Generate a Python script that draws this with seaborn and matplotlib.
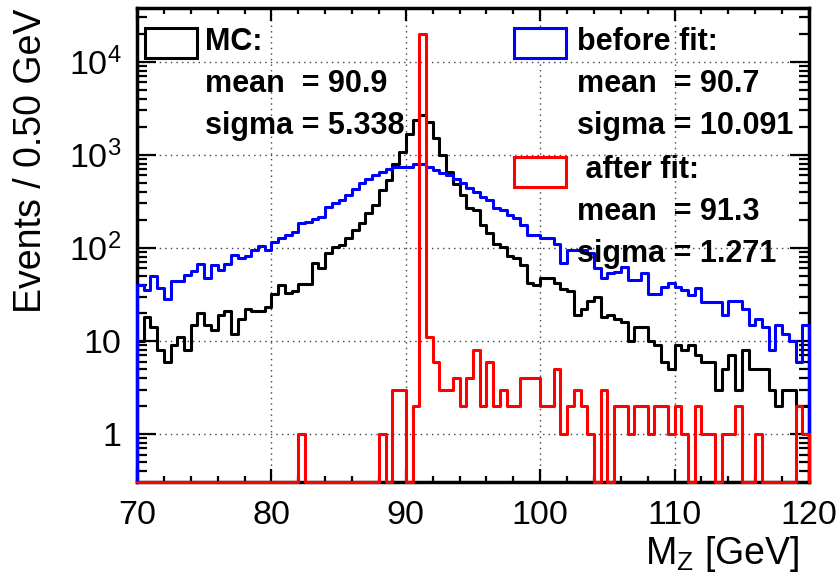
import matplotlib
matplotlib.use("Agg")
import matplotlib.pyplot as plt
import numpy as np
import pandas as pd
import seaborn as sns
from matplotlib.patches import Rectangle
from matplotlib.ticker import FixedLocator, FixedFormatter, LogLocator, MultipleLocator, NullFormatter

# binning: 100 bins of 0.50 GeV between 70 and 120 GeV
x_lo, x_hi, bin_w = 70.0, 120.0, 0.5

# MC (black)
mc_counts = [10, 18, 14, 8, 6, 9, 11, 8, 15, 20,
             15, 13, 19, 21, 12, 17, 22, 21, 21, 23,
             32, 40, 33, 34, 41, 41, 68, 61, 87, 102,
             108, 128, 155, 183, 237, 290, 420, 535, 805, 1080,
             1650, 2350, 2700, 2270, 1500, 1000, 650, 485, 370, 268,
             252, 175, 143, 110, 103, 81, 77, 65, 42, 40,
             48, 47, 42, 36, 34, 19, 22, 27, 30, 18,
             19, 17, 16, 10, 14, 14, 10, 9, 6, 5,
             9, 8, 9, 7, 6, 6, 3, 5, 7, 3,
             8, 5, 5, 5, 3, 2, 3, 3, 2, 2]

# before fit (blue)
before_counts = [40, 35, 50, 37, 28, 44, 44, 51, 56, 67,
                 48, 65, 58, 67, 83, 78, 81, 95, 105, 95,
                 116, 127, 137, 148, 186, 190, 205, 215, 275, 300,
                 330, 370, 430, 495, 545, 605, 655, 710, 740, 740,
                 745, 790, 790, 740, 685, 630, 605, 555, 495, 435,
                 395, 355, 325, 270, 257, 225, 207, 175, 137, 137,
                 126, 126, 111, 68, 95, 95, 95, 88, 60, 48,
                 54, 55, 62, 45, 45, 53, 32, 32, 38, 42,
                 38, 35, 31, 37, 26, 26, 26, 19, 27, 27,
                 22, 15, 17, 14, 8, 15, 12, 10, 6, 15]

# after fit (red)
after_counts = [0, 0, 0, 0, 0, 0, 0, 0, 0, 0,
                0, 0, 0, 0, 0, 0, 0, 0, 0, 0,
                0, 0, 0, 0, 1, 0, 0, 0, 0, 0,
                0, 0, 0, 0, 0, 0, 1, 0, 3, 3,
                0, 2, 20000, 11, 6, 3, 3, 4, 2, 4,
                8, 2, 6, 2, 3, 2, 2, 4, 4, 4,
                2, 2, 5, 1, 2, 3, 2, 1, 0, 3,
                0, 2, 2, 1, 2, 2, 1, 2, 2, 1,
                2, 1, 0, 2, 1, 1, 0, 1, 1, 2,
                0, 0, 1, 0, 0, 0, 0, 0, 2, 1]

series_colors = ["black", "blue", "red"]
legend_lines = [
    ["MC:", "mean  = 90.9", "sigma = 5.338"],
    ["before fit:", "mean  = 90.7", "sigma = 10.091"],
    [" after fit:", "mean  = 91.3", "sigma = 1.271"],
]

y_ticks = [1, 10, 100, 1000, 10000]
y_tick_labels = ["1", "10", "$10^2$", "$10^3$", "$10^4$"]
y_min, y_max = 0.303, 3.74e4

sns.set_style("ticks")
plt.rcParams["font.family"] = ["Liberation Sans", "DejaVu Sans"]
plt.rcParams["mathtext.fontset"] = "custom"
plt.rcParams["mathtext.rm"] = "Liberation Sans"
plt.rcParams["mathtext.it"] = "Liberation Sans:italic"
plt.rcParams["text.color"] = "black"
plt.rcParams["axes.labelcolor"] = "black"
plt.rcParams["xtick.color"] = "black"
plt.rcParams["ytick.color"] = "black"

centers = x_lo + bin_w / 2 + bin_w * np.arange(len(mc_counts))

fig = plt.figure(figsize=(8.4, 5.78), dpi=100)
ax = fig.add_axes([137 / 840, 1 - 482.3 / 578, 672 / 840, 474 / 578])
ax.set_yscale("log")

for counts, col in zip([mc_counts, before_counts, after_counts], series_colors):
    # empty bins sit on the lower frame, like ROOT draws them
    n = np.maximum(np.asarray(counts, dtype=float), y_min)
    df = pd.DataFrame({"mz": centers, "n": n})
    sns.histplot(data=df, x="mz", weights="n", binwidth=bin_w, binrange=(x_lo, x_hi),
                 element="step", fill=False, color=col, linewidth=2.2, ax=ax,
                 zorder=3, clip_on=False)
    # closing edges of the outline down to the frame at both ends
    ax.plot([x_lo, x_lo], [y_min, n[0]], color=col, lw=2.2, zorder=3, clip_on=False)
    ax.plot([x_hi, x_hi], [y_min, n[-1]], color=col, lw=2.2, zorder=3, clip_on=False)

ax.set_xlim(x_lo, x_hi)
ax.set_ylim(y_min, y_max)

# ROOT-like frame and ticks
for sp in ax.spines.values():
    sp.set_linewidth(2.5)
    sp.set_color("black")
    sp.set_zorder(2.6)

ax.xaxis.set_major_locator(MultipleLocator(10))
ax.xaxis.set_minor_locator(MultipleLocator(2))
ax.yaxis.set_major_locator(FixedLocator(y_ticks))
ax.yaxis.set_major_formatter(FixedFormatter(y_tick_labels))
ax.yaxis.set_minor_locator(LogLocator(base=10, subs=np.arange(2, 10), numticks=50))
ax.yaxis.set_minor_formatter(NullFormatter())

ax.tick_params(axis="both", which="both", direction="in", top=True, right=True,
               width=1.6, labelsize=24.5, colors="black")
ax.tick_params(axis="x", which="major", length=9.5, pad=13)
ax.tick_params(axis="x", which="minor", length=4.5)
ax.tick_params(axis="y", which="major", length=14, pad=11)
ax.tick_params(axis="y", which="minor", length=7)

ax.grid(True, which="major", linestyle=(0, (1, 3)), color="0.25", linewidth=1.0)
ax.set_axisbelow(True)

ax.set_xlabel(r"M$_{\mathrm{Z}}$ [GeV]", fontsize=27, loc="right")
ax.xaxis.set_label_coords(0.985, -0.11)
ax.set_ylabel("Events / 0.50 GeV", fontsize=27, loc="top")
ax.yaxis.set_label_coords(-0.131, 1.0)

# legend block: outlined boxes plus three bold lines of text each
box_x = [0.012, 0.561, 0.561]
box_y = [0.895, 0.895, 0.622]
text_x = [0.101, 0.655, 0.655]
text_y0 = [0.929, 0.929, 0.659]
line_step = 0.089
for bx, by, tx, ty, col, lines in zip(box_x, box_y, text_x, text_y0, series_colors, legend_lines):
    ax.add_patch(Rectangle((bx, by), 0.078, 0.064, transform=ax.transAxes,
                           facecolor="white", edgecolor=col, linewidth=2.2, zorder=5))
    for k, txt in enumerate(lines):
        ax.text(tx, ty - k * line_step, txt, transform=ax.transAxes, fontsize=22,
                fontweight="bold", color="black", va="center", ha="left", zorder=6)

plt.savefig("out.png", dpi=100)
